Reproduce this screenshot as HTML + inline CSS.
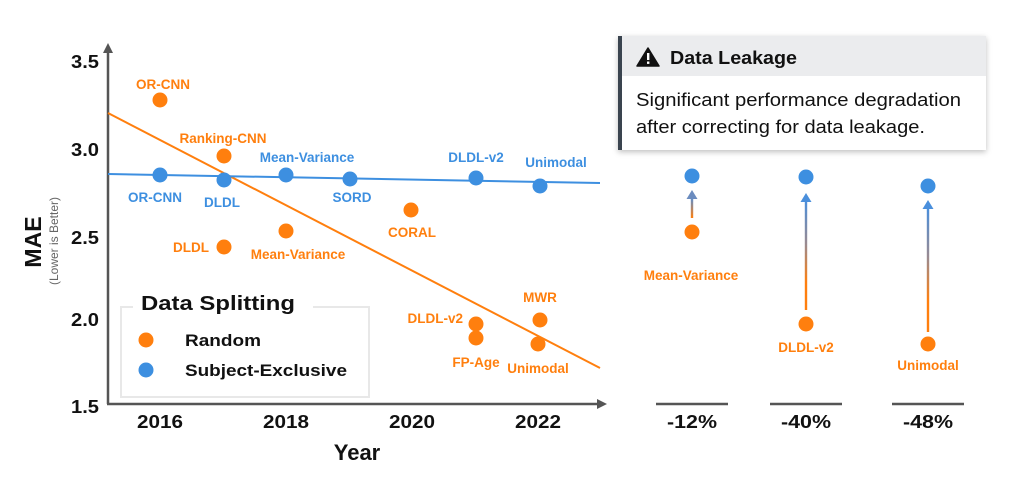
<!DOCTYPE html>
<html><head><meta charset="utf-8"><style>
html,body{margin:0;padding:0;background:#fff;}
svg{display:block;}
text{font-family:"Liberation Sans",sans-serif;}
</style></head><body>
<svg width="1012" height="486" viewBox="0 0 1012 486" xmlns="http://www.w3.org/2000/svg">
<defs>
<linearGradient id="g1" x1="0" y1="1" x2="0" y2="0"><stop offset="0" stop-color="#ff7f0e"/><stop offset="1" stop-color="#5b8fd0"/></linearGradient>
<linearGradient id="g2" x1="0" y1="1" x2="0" y2="0"><stop offset="0" stop-color="#ff7f0e"/><stop offset="0.25" stop-color="#ff7f0e"/><stop offset="0.6" stop-color="#9a8a90"/><stop offset="1" stop-color="#4a8fdc"/></linearGradient>
<filter id="sh" x="-10%" y="-20%" width="120%" height="150%"><feDropShadow dx="0" dy="2" stdDeviation="3" flood-color="#000" flood-opacity="0.25"/></filter>
</defs>

<!-- axes -->
<line x1="108" y1="52" x2="108" y2="404" stroke="#555" stroke-width="2.5"/>
<polygon points="108,43 103,53 113,53" fill="#555"/>
<line x1="107" y1="404" x2="598" y2="404" stroke="#555" stroke-width="2.5"/>
<polygon points="607,404 597,399 597,409" fill="#555"/>

<!-- y ticks -->
<g font-size="18" font-weight="bold" fill="#111" text-anchor="end">
<text x="99" y="68" textLength="28" lengthAdjust="spacingAndGlyphs">3.5</text>
<text x="99" y="156" textLength="28" lengthAdjust="spacingAndGlyphs">3.0</text>
<text x="99" y="244" textLength="28" lengthAdjust="spacingAndGlyphs">2.5</text>
<text x="99" y="326" textLength="28" lengthAdjust="spacingAndGlyphs">2.0</text>
<text x="99" y="413" textLength="28" lengthAdjust="spacingAndGlyphs">1.5</text>
</g>
<!-- x ticks -->
<g font-size="18" font-weight="bold" fill="#111" text-anchor="middle">
<text x="160" y="428" textLength="46" lengthAdjust="spacingAndGlyphs">2016</text>
<text x="286" y="428" textLength="46" lengthAdjust="spacingAndGlyphs">2018</text>
<text x="412" y="428" textLength="46" lengthAdjust="spacingAndGlyphs">2020</text>
<text x="538" y="428" textLength="46" lengthAdjust="spacingAndGlyphs">2022</text>
</g>
<text x="357" y="460" font-size="22" font-weight="bold" fill="#111" text-anchor="middle">Year</text>
<text transform="translate(41,242) rotate(-90)" font-size="23" font-weight="bold" fill="#111" text-anchor="middle">MAE</text>
<text transform="translate(58,241) rotate(-90)" font-size="12" fill="#666" text-anchor="middle">(Lower is Better)</text>

<!-- trend lines -->
<line x1="108" y1="113" x2="600" y2="368" stroke="#ff7f0e" stroke-width="2"/>
<line x1="108" y1="174" x2="600" y2="183" stroke="#3d8fe0" stroke-width="2"/>

<!-- orange points -->
<g fill="#ff7f0e">
<circle cx="160" cy="100" r="7.5"/>
<circle cx="224" cy="156" r="7.5"/>
<circle cx="224" cy="247" r="7.5"/>
<circle cx="286" cy="231" r="7.5"/>
<circle cx="411" cy="210" r="7.5"/>
<circle cx="476" cy="324" r="7.5"/>
<circle cx="476" cy="338" r="7.5"/>
<circle cx="540" cy="320" r="7.5"/>
<circle cx="538" cy="344" r="7.5"/>
</g>
<!-- blue points -->
<g fill="#3d8fe0">
<circle cx="160" cy="175" r="7.5"/>
<circle cx="224" cy="180" r="7.5"/>
<circle cx="286" cy="175" r="7.5"/>
<circle cx="350" cy="179" r="7.5"/>
<circle cx="476" cy="178" r="7.5"/>
<circle cx="540" cy="186" r="7.5"/>
</g>

<g font-size="13.5" font-weight="bold" fill="#ff7f0e" text-anchor="middle">
<text x="163" y="89">OR-CNN</text>
<text x="223" y="143">Ranking-CNN</text>
<text x="209" y="252" text-anchor="end">DLDL</text>
<text x="298" y="259">Mean-Variance</text>
<text x="412" y="237">CORAL</text>
<text x="463" y="323" text-anchor="end">DLDL-v2</text>
<text x="476" y="367">FP-Age</text>
<text x="540" y="302">MWR</text>
<text x="538" y="373">Unimodal</text>
</g>
<g font-size="13.5" font-weight="bold" fill="#3d8fe0" text-anchor="middle">
<text x="155" y="202">OR-CNN</text>
<text x="222" y="207">DLDL</text>
<text x="307" y="162">Mean-Variance</text>
<text x="352" y="202">SORD</text>
<text x="476" y="162">DLDL-v2</text>
<text x="556" y="167">Unimodal</text>
</g>

<!-- legend -->
<rect x="121" y="307" width="248" height="90" fill="#fff" stroke="#e8e8e8" stroke-width="2"/>
<rect x="133" y="296" width="180" height="20" fill="#fff"/>
<text x="141" y="310" font-size="20" font-weight="bold" fill="#111" textLength="154" lengthAdjust="spacingAndGlyphs">Data Splitting</text>
<circle cx="146" cy="340" r="7.5" fill="#ff7f0e"/>
<circle cx="146" cy="370" r="7.5" fill="#3d8fe0"/>
<text x="185" y="346" font-size="17" font-weight="bold" fill="#111" textLength="76" lengthAdjust="spacingAndGlyphs">Random</text>
<text x="185" y="376" font-size="17" font-weight="bold" fill="#111" textLength="162" lengthAdjust="spacingAndGlyphs">Subject-Exclusive</text>

<!-- callout -->
<g filter="url(#sh)">
<rect x="618" y="36" width="368" height="114" fill="#fff"/>
</g>
<rect x="618" y="36" width="368" height="40" fill="#ebecee"/>
<rect x="618" y="36" width="4" height="114" fill="#3a444f"/>
<polygon points="648,48 637,66 659,66" fill="#111" stroke="#111" stroke-width="1.5" stroke-linejoin="round"/>
<rect x="647" y="53" width="2.4" height="7" fill="#fff"/>
<rect x="647" y="61.5" width="2.4" height="2.4" fill="#fff"/>
<text x="670" y="64" font-size="18" font-weight="bold" fill="#111" textLength="127" lengthAdjust="spacingAndGlyphs">Data Leakage</text>
<text x="636" y="106" font-size="18" fill="#111" textLength="325" lengthAdjust="spacingAndGlyphs">Significant performance degradation</text>
<text x="636" y="133" font-size="18" fill="#111" textLength="289" lengthAdjust="spacingAndGlyphs">after correcting for data leakage.</text>

<!-- right columns -->
<rect x="690.8" y="198" width="2.4" height="20" fill="url(#g1)"/>
<polygon points="692,190 686.5,199 697.5,199" fill="#6b8cbf"/>
<circle cx="692" cy="176" r="7.5" fill="#3d8fe0"/>
<circle cx="692" cy="232" r="7.5" fill="#ff7f0e"/>
<text x="691" y="280" font-size="13.5" font-weight="bold" fill="#ff7f0e" text-anchor="middle">Mean-Variance</text>

<rect x="804.8" y="200" width="2.4" height="110" fill="url(#g2)"/>
<polygon points="806,193 800.5,202 811.5,202" fill="#4a8fdc"/>
<circle cx="806" cy="177" r="7.5" fill="#3d8fe0"/>
<circle cx="806" cy="324" r="7.5" fill="#ff7f0e"/>
<text x="806" y="352" font-size="13.5" font-weight="bold" fill="#ff7f0e" text-anchor="middle">DLDL-v2</text>

<rect x="926.8" y="208" width="2.4" height="124" fill="url(#g2)"/>
<polygon points="928,200 922.5,209 933.5,209" fill="#4a8fdc"/>
<circle cx="928" cy="186" r="7.5" fill="#3d8fe0"/>
<circle cx="928" cy="344" r="7.5" fill="#ff7f0e"/>
<text x="928" y="370" font-size="13.5" font-weight="bold" fill="#ff7f0e" text-anchor="middle">Unimodal</text>

<g stroke="#555" stroke-width="2.5">
<line x1="656" y1="404" x2="728" y2="404"/>
<line x1="770" y1="404" x2="842" y2="404"/>
<line x1="892" y1="404" x2="964" y2="404"/>
</g>
<g font-size="18" font-weight="bold" fill="#111" text-anchor="middle">
<text x="692" y="428" textLength="50" lengthAdjust="spacingAndGlyphs">-12%</text>
<text x="806" y="428" textLength="50" lengthAdjust="spacingAndGlyphs">-40%</text>
<text x="928" y="428" textLength="50" lengthAdjust="spacingAndGlyphs">-48%</text>
</g>
</svg>
</body></html>
